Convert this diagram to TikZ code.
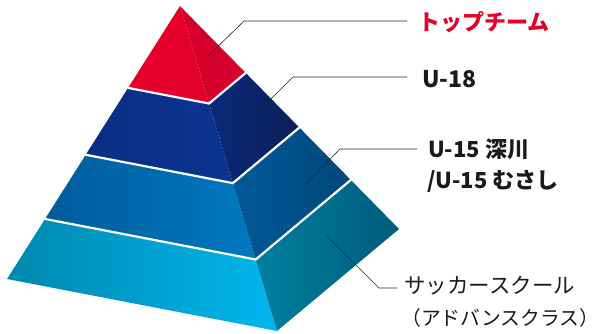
\documentclass[tikz,border=0pt]{standalone}
\usepackage{fontspec}
\newfontfamily\jp{Noto Sans CJK JP}
\usetikzlibrary{calc}
\definecolor{topred}{HTML}{E4002B}
\definecolor{topredR}{HTML}{D5002C}
\definecolor{navyL}{HTML}{0A2D82}
\definecolor{navyM}{HTML}{0B3590}
\definecolor{navyR1}{HTML}{0B2A78}
\definecolor{navyR2}{HTML}{091F58}
\definecolor{blueL}{HTML}{005C9C}
\definecolor{blueM}{HTML}{0078C0}
\definecolor{blueR1}{HTML}{005A98}
\definecolor{blueR2}{HTML}{00467C}
\definecolor{lbL}{HTML}{0088AE}
\definecolor{lbM}{HTML}{00B6EE}
\definecolor{lbR1}{HTML}{00809F}
\definecolor{lbR2}{HTML}{005B7B}
\definecolor{txt}{HTML}{1A1A1A}
\tikzset{
  leader/.style={draw=black!85, line width=0.6pt},
  sep/.style={draw=white, line width=2.2pt, line cap=round},
  lbl/.style={anchor=west, inner sep=0pt, text=txt, font=\jp\fontsize{21.5}{24}\selectfont},
  lblb/.style={lbl, font=\jp\bfseries\fontsize{22}{24}\selectfont},
}
\begin{document}
\begin{tikzpicture}[x=1pt,y=-1pt]
\useasboundingbox (0,0) rectangle (600,334);
\coordinate (A) at (180,6);
\coordinate (L) at (7,279);
\coordinate (F) at (277,331);
\coordinate (R) at (399,229);
\foreach \n/\t in {1/0.3,2/0.545,3/0.78}{
  \coordinate (L\n) at ($(A)!\t!(L)$);
  \coordinate (F\n) at ($(A)!\t!(F)$);
  \coordinate (R\n) at ($(A)!\t!(R)$);
}
% top red
\fill[topred] (A) -- (L1) -- (F1) -- cycle;
\fill[topredR] (A) -- (F1) -- (R1) -- cycle;
% navy
\shade[left color=navyL, right color=navyM] (L1) -- (F1) -- (F2) -- (L2) -- cycle;
\shade[shading angle=135, left color=navyR1, right color=navyR2] (F1) -- (R1) -- (R2) -- (F2) -- cycle;
% blue
\shade[left color=blueL, right color=blueM] (L2) -- (F2) -- (F3) -- (L3) -- cycle;
\shade[shading angle=135, left color=blueR1, right color=blueR2] (F2) -- (R2) -- (R3) -- (F3) -- cycle;
% light blue
\shade[left color=lbL, right color=lbM] (L3) -- (F3) -- (F) -- (L) -- cycle;
\shade[shading angle=135, left color=lbR1, right color=lbR2] (F3) -- (R3) -- (R) -- (F) -- cycle;
% separators
\foreach \n in {1,2,3}{
  \draw[sep] (L\n) -- (F\n) -- (R\n);
}
% labels
\node[lblb, text=topred] (t1) at (418,22) {トップチーム};
\node[lblb, font=\jp\bfseries\fontsize{23}{24}\selectfont] (t2) at (422,79) {U-18};
\node[lblb] (t3) at (428,149) {U-15 深川};
\node[lblb] (t3b) at (427,181) {/U-15 むさし};
\node[lbl] (t4) at (404,286) {サッカースクール};
\node[lbl, font=\jp\fontsize{19.8}{24}\selectfont] (t4b) at (401,318) {（アドバンスクラス）};
% leaders
\coordinate (p1) at (207,57); \coordinate (k1) at (244,21); \coordinate (e1) at (407,21);
\coordinate (p2) at (257,113); \coordinate (k2) at (293,77); \coordinate (e2) at (407,77);
\coordinate (p3) at (305,185); \coordinate (k3) at (340,149); \coordinate (e3) at (417,149);
\coordinate (p4) at (327,236); \coordinate (k4) at (379,288); \coordinate (e4) at (397,288);
\draw[leader] (p1) -- (k1) -- (e1);
\draw[leader] (p2) -- (k2) -- (e2);
\draw[leader] (p3) -- (k3) -- (e3);
\draw[leader] (p4) -- (k4) -- (e4);
\end{tikzpicture}
\end{document}
